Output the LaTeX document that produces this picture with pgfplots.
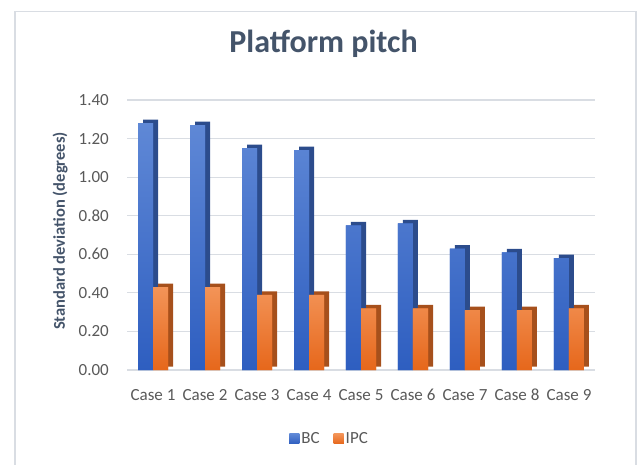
\documentclass[border=0pt]{standalone}
\usepackage{pgfplots}
\pgfplotsset{compat=1.18}
\usepackage{fontspec}
\setmainfont{Carlito}
\definecolor{titlec}{HTML}{44546A}
\definecolor{tickc}{HTML}{595959}
\definecolor{gridc}{HTML}{D9DDE3}
\definecolor{bctop}{HTML}{5F88D6}
\definecolor{bcbot}{HTML}{2E5EC0}
\definecolor{bcside}{HTML}{2C4C8C}
\definecolor{ipctop}{HTML}{F39458}
\definecolor{ipcbot}{HTML}{E6671B}
\definecolor{ipcside}{HTML}{A6501C}
\begin{document}
\begin{tikzpicture}[x=1pt,y=1pt]
\path[use as bounding box] (0,0) rectangle (639,464);
\draw[gridc, line width=1.2pt] (15,-5) rectangle (636,452.5);
\begin{axis}[
  at={(127pt,94pt)}, anchor=south west,
  scale only axis, width=468pt, height=270pt,
  xmin=-0.5, xmax=8.5, ymin=0, ymax=1.4,
  xtick={0,...,8},
  xticklabels={Case 1,Case 2,Case 3,Case 4,Case 5,Case 6,Case 7,Case 8,Case 9},
  ytick={0,0.2,...,1.4},
  /pgf/number format/fixed, /pgf/number format/fixed zerofill,
  /pgf/number format/precision=2, /pgf/number format/assume math mode=true,
  tick label style={font=\fontsize{17}{20}\selectfont, text=tickc, inner sep=0pt},
  yticklabel style={xshift=-18pt},
  xticklabel style={yshift=-19pt},
  major tick length=0pt,
  axis line style={draw=none},
  ymajorgrids, grid style={draw=gridc, line width=1.1pt},
  ybar, bar width=15pt,
  title={\bfseries Platform pitch},
  title style={at={(0.42,1.185)}, anchor=center, font=\fontsize{32}{36}\selectfont, text=titlec},
  ylabel={\bfseries Standard deviation (degrees)},
  ylabel style={at={(-0.143,0.515)}, anchor=center, font=\fontsize{16.5}{20}\selectfont, text=titlec},
  legend style={at={(0.433,-0.255)}, anchor=center, draw=none, legend columns=2,
    font=\fontsize{17}{20}\selectfont, text=tickc,
    /tikz/every even column/.append style={column sep=12pt}},
  legend image code/.code={\fill[#1] (0pt,-5pt) rectangle (10pt,5pt);},
]
% depth (side) faces
\addplot[forget plot, draw=none, fill=bcside, bar shift=-7.5pt, xshift=5pt, yshift=3.5pt] coordinates {
(0,1.28) (1,1.27) (2,1.15) (3,1.14) (4,0.75) (5,0.76) (6,0.63) (7,0.61) (8,0.58)};
\addplot[forget plot, draw=none, fill=ipcside, bar shift=7.5pt, xshift=5pt, yshift=3.5pt] coordinates {
(0,0.43) (1,0.43) (2,0.39) (3,0.39) (4,0.32) (5,0.32) (6,0.31) (7,0.31) (8,0.32)};
% front faces
\addplot[draw=none, fill=bcbot, top color=bctop, bottom color=bcbot, bar shift=-7.5pt] coordinates {
(0,1.28) (1,1.27) (2,1.15) (3,1.14) (4,0.75) (5,0.76) (6,0.63) (7,0.61) (8,0.58)};
\addplot[draw=none, fill=ipcbot, top color=ipctop, bottom color=ipcbot, bar shift=7.5pt] coordinates {
(0,0.43) (1,0.43) (2,0.39) (3,0.39) (4,0.32) (5,0.32) (6,0.31) (7,0.31) (8,0.32)};
\legend{BC,IPC}
\end{axis}
\end{tikzpicture}
\end{document}
